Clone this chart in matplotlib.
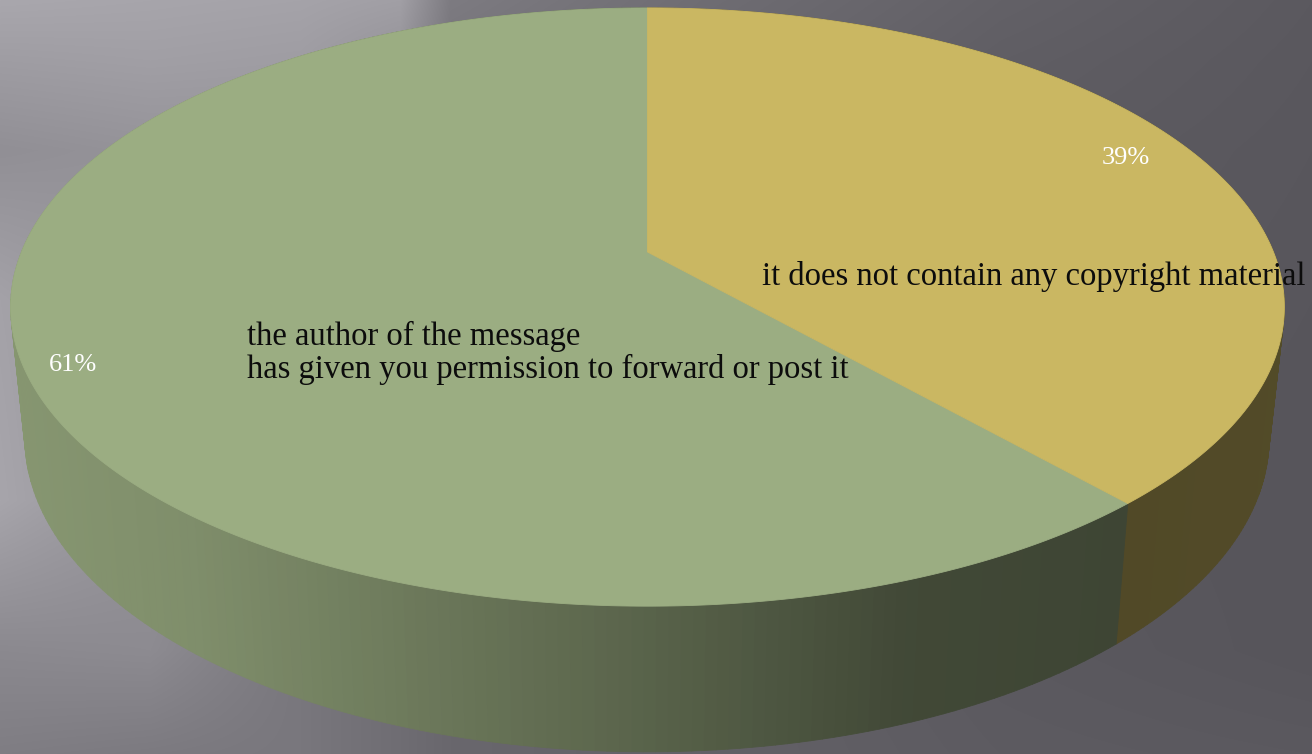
import numpy as np
import matplotlib
matplotlib.use("Agg")
import matplotlib.pyplot as plt
from matplotlib.collections import PolyCollection
from matplotlib.colors import to_rgb

# ---- data ----
categories = ["it does not contain any copyright material",
              "the author of the message\nhas given you permission to forward or post it"]
values = [38.5, 61.5]
pct_labels = ["39%", "61%"]
top_colors = ["#cab762", "#9bad82"]

W, H = 1312, 754
fig = plt.figure(figsize=(W / 100, H / 100), dpi=100)
ax = fig.add_axes([0, 0, 1, 1])
ax.set_xlim(0, W)
ax.set_ylim(H, 0)
ax.axis("off")

# ---- background: coarse grey field, smoothly resampled ----
bg_x = [0, 150, 300, 400, 450, 700, 1000, 1312]
bg_y = [0, 60, 150, 300, 500, 650, 754]
bg_grey = np.array([
    [170, 168, 166, 162, 126, 112, 100, 92],
    [160, 162, 160, 150, 120, 108, 97, 91],
    [146, 150, 150, 145, 118, 104, 94, 90],
    [165, 150, 140, 130, 115, 102, 92, 89],
    [168, 150, 132, 122, 112, 100, 90, 88],
    [140, 142, 122, 112, 106, 100, 92, 88],
    [128, 125, 122, 112, 106, 100, 94, 92],
], dtype=float)
rows = np.array([np.interp(np.arange(W), bg_x, r) for r in bg_grey])
bg = np.array([np.interp(np.arange(H), bg_y, rows[:, c]) for c in range(W)]).T
bg_rgb = np.dstack([bg - 1, bg - 3, bg + 3]) / 255
ax.imshow(np.clip(bg_rgb, 0, 1), extent=(0, W, H, 0), aspect="auto", zorder=0, interpolation="bilinear")


# ---- perspective disc ----
def rim(theta_deg, cx, y0, a, b, k):
    th = np.radians(theta_deg)
    u, v = np.sin(th), np.cos(th)
    d = 1 + k * v
    return cx + a * u / d, y0 - b * v / d


TOP = dict(cx=647.5, y0=252, a=626, b=289, k=0.184)
BOT = dict(cx=647, y0=380, a=611.5, b=303.4, k=0.184)

shade_x = [0, 50, 200, 400, 650, 900, 1115, 1312]
shade_f = [0.87, 0.86, 0.82, 0.71, 0.57, 0.42, 0.40, 0.41]

edges = 360 * np.concatenate([[0], np.cumsum(values)]) / np.sum(values)

# walls first, top faces over them
for i, col in enumerate(top_colors):
    ths = np.linspace(edges[i], edges[i + 1], 240)
    xt, yt = rim(ths, **TOP)
    xb, yb = rim(ths, **BOT)
    quads, cols = [], []
    base = np.array(to_rgb(col))
    for j in range(len(ths) - 1):
        quads.append([(xt[j], yt[j]), (xt[j + 1], yt[j + 1]), (xb[j + 1], yb[j + 1]), (xb[j], yb[j])])
        xm = (xb[j] + xb[j + 1]) / 2
        cols.append(base * np.interp(xm, shade_x, shade_f))
    ax.add_collection(PolyCollection(quads, facecolors=cols, edgecolors=cols, linewidths=0.6, zorder=2))

for i in (1, 0):
    col = top_colors[i]
    ths = np.linspace(edges[i], edges[i + 1], 400)
    x, y = rim(ths, **TOP)
    ax.fill(np.r_[TOP["cx"], x], np.r_[TOP["y0"], y], facecolor=col, edgecolor=col, lw=0.6, zorder=3)

# ---- text ----
serif = ["Liberation Serif", "DejaVu Serif"]
ax.text(762, 276, categories[0], fontsize=23.5, family=serif, color="#0c0c0c",
        ha="left", va="center", zorder=5)
ax.text(247, 353, categories[1], fontsize=23.5, family=serif, color="#0c0c0c",
        ha="left", va="center", linespacing=1.09, zorder=5)
ax.text(1126, 158, pct_labels[0], fontsize=19, family=serif, color="white",
        ha="center", va="center", zorder=5)
ax.text(73, 365, pct_labels[1], fontsize=19, family=serif, color="white",
        ha="center", va="center", zorder=5)

fig.savefig("out.png", dpi=100)
